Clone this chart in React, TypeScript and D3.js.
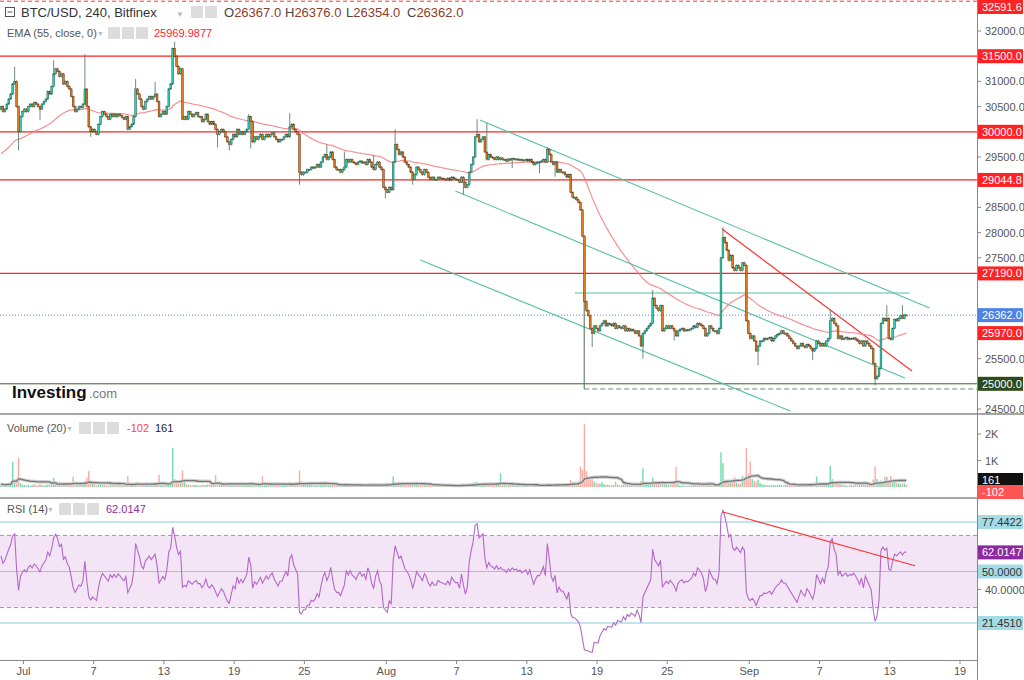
import * as d3 from 'd3';

// 4h closes, one row per day starting Jun 29 (00:00, 04:00 ... 20:00)
const closesByDay: number[][] = [
  [30500, 30400, 30450, 30550, 30650, 30750], // Jun 29
  [30950, 31000, 30500, 30000, 30300, 30400],
  [30450, 30400, 30500, 30550, 30500, 30580], // Jul 1
  [30550, 30500, 30450, 30550, 30600, 30650],
  [30800, 30750, 30900, 31150, 31250, 31200],
  [31100, 31150, 30950, 31000, 30900, 30850],
  [30700, 30500, 30400, 30450, 30500, 30480],
  [30550, 30850, 30500, 30100, 30000, 30050],
  [30000, 29950, 30150, 30300, 30400, 30350],
  [30300, 30250, 30350, 30300, 30350, 30300],
  [30350, 30320, 30280, 30250, 30300, 30050],
  [30100, 30150, 30300, 30850, 30750, 30650],
  [30500, 30450, 30600, 30650, 30700, 30650],
  [30700, 30750, 30600, 30300, 30350, 30400],
  [30350, 30500, 30850, 30950, 31650, 31500], // Jul 13
  [31300, 31150, 31250, 30250, 30300, 30250],
  [30400, 30350, 30300, 30350, 30380, 30300],
  [30300, 30200, 30250, 30350, 30200, 30150],
  [30200, 30150, 30050, 29950, 30000, 30050],
  [30000, 29900, 29800, 29750, 29850, 29950],
  [29900, 30050, 29950, 30000, 29950, 30000], // Jul 19
  [30050, 30300, 30200, 29800, 29900, 29850],
  [29900, 29950, 29850, 29900, 29950, 29900],
  [29950, 29980, 29900, 29850, 29800, 29850],
  [29850, 29900, 29950, 29900, 30100, 30150],
  [30050, 30000, 29950, 29200, 29150, 29200], // Jul 24
  [29200, 29250, 29250, 29300, 29280, 29300],
  [29350, 29300, 29400, 29500, 29550, 29450],
  [29500, 29600, 29450, 29300, 29250, 29250],
  [29200, 29250, 29300, 29450, 29400, 29450],
  [29400, 29380, 29350, 29400, 29420, 29380],
  [29400, 29350, 29450, 29400, 29300, 29250],
  [29350, 29400, 29300, 29250, 28900, 28850],
  [28800, 28900, 28850, 29400, 29750, 29650], // Aug 1
  [29550, 29600, 29500, 29400, 29350, 29300],
  [29200, 29050, 29150, 29300, 29250, 29200],
  [29150, 29250, 29200, 29100, 29050, 29100],
  [29050, 29050, 29100, 29080, 29070, 29060],
  [29050, 29080, 29040, 29100, 29070, 29050],
  [29050, 29000, 29100, 29000, 28900, 28950], // Aug 7
  [29200, 29350, 29500, 29900, 29950, 29800],
  [29850, 29900, 29600, 29450, 29550, 29500],
  [29480, 29450, 29500, 29450, 29480, 29450],
  [29450, 29420, 29460, 29440, 29470, 29450],
  [29460, 29440, 29450, 29430, 29440, 29450],
  [29420, 29450, 29400, 29350, 29380, 29400],
  [29400, 29420, 29450, 29400, 29650, 29550],
  [29400, 29350, 29400, 29200, 29250, 29200],
  [29200, 29150, 29100, 29150, 28800, 28700],
  [28700, 28650, 28600, 28450, 27930, 26630], // Aug 17
  [26450, 26350, 26100, 26000, 26150, 26100],
  [26050, 26150, 26200, 26250, 26150, 26200],
  [26180, 26150, 26200, 26100, 26150, 26120],
  [26100, 26150, 26050, 26100, 26050, 26080],
  [26050, 26000, 26050, 25950, 25750, 26000],
  [26050, 26100, 26150, 26200, 26700, 26550], // Aug 23
  [26500, 26450, 26550, 26050, 26100, 26150],
  [26100, 26150, 26100, 26050, 25950, 26050],
  [26080, 26100, 26050, 26070, 26060, 26080],
  [26100, 26150, 26120, 26200, 26180, 26150],
  [26100, 25950, 26000, 26150, 26100, 26050],
  [26050, 26000, 26100, 27500, 27900, 27800], // Aug 29
  [27650, 27450, 27550, 27300, 27250, 27350],
  [27300, 27250, 27400, 27350, 26250, 26000],
  [25900, 25950, 25850, 25650, 25750, 25850], // Sep 1
  [25850, 25900, 25880, 25900, 25920, 25850],
  [25900, 25950, 25980, 26000, 26050, 26000],
  [26000, 25950, 25900, 25850, 25800, 25750],
  [25700, 25750, 25800, 25750, 25720, 25780],
  [25750, 25700, 25650, 25700, 25850, 25800],
  [25750, 25800, 25750, 25850, 25900, 26250], // Sep 7
  [26300, 26200, 26150, 25900, 25950, 25880],
  [25900, 25920, 25880, 25900, 25890, 25910],
  [25880, 25850, 25800, 25850, 25750, 25850],
  [25800, 25750, 25700, 25400, 25100, 25150], // Sep 11
  [25300, 26200, 26300, 26250, 26300, 25900],
  [25880, 26100, 26280, 26250, 26300, 26350],
  [26300, 26367, 26362], // Sep 14
];
const firstOpen = 30450;

// wicks that stand out in the picture: [candle index, price]
const highMarks: [number, number][] = [
  [7, 31290], [27, 31420], [43, 31540], [69, 31050], [79, 30990], [89, 31785],
  [127, 30350], [148, 30370], [167, 29740], [176, 29610], [191, 29540], [202, 30050],
  [244, 30250], [249, 30170], [280, 29700], [334, 26860], [370, 28105], [425, 26460],
  [454, 26560], [462, 26560], [464, 26376],
];
const lowMarks: [number, number][] = [
  [9, 29630], [20, 30230], [46, 29900], [111, 29690], [117, 29630], [128, 29670],
  [153, 28950], [197, 28680], [211, 28950], [237, 28750], [262, 29280], [276, 29180],
  [284, 29110], [303, 25730], [329, 25500], [345, 25860], [388, 25370], [416, 25470],
  [448, 24970], [464, 26354],
];

const volumeByDay: number[][] = [
  [120, 80, 60, 90, 140, 110], [940, 260, 180, 1100, 150, 90], [70, 60, 90, 50, 80, 100],
  [60, 80, 110, 70, 50, 90], [80, 100, 160, 350, 180, 120], [200, 130, 90, 70, 110, 80],
  [90, 390, 120, 80, 60, 90], [100, 220, 350, 600, 140, 180], [90, 60, 80, 110, 70, 90],
  [60, 50, 80, 70, 90, 60], [70, 90, 60, 80, 100, 420], [90, 80, 110, 180, 200, 100],
  [70, 60, 90, 80, 70, 110], [90, 130, 100, 460, 120, 80], [70, 90, 130, 190, 1480, 300],
  [180, 140, 160, 630, 200, 120], [80, 70, 60, 90, 80, 70], [60, 90, 70, 80, 100, 90],
  [100, 120, 460, 150, 190, 90], [110, 80, 130, 90, 70, 100], [60, 80, 90, 70, 60, 80],
  [120, 150, 200, 170, 90, 80], [70, 100, 400, 150, 90, 60], [50, 70, 60, 80, 50, 60],
  [70, 60, 90, 110, 200, 130], [100, 180, 160, 620, 220, 130], [90, 70, 110, 80, 100, 70],
  [60, 80, 100, 90, 120, 80], [70, 60, 90, 110, 80, 70], [60, 70, 130, 90, 60, 50],
  [50, 60, 40, 70, 50, 60], [50, 70, 60, 160, 80, 100], [70, 60, 90, 80, 140, 120],
  [170, 90, 110, 400, 180, 130], [200, 90, 150, 100, 80, 110], [90, 120, 80, 100, 70, 60],
  [70, 60, 80, 60, 50, 70], [40, 50, 40, 60, 50, 40], [50, 40, 60, 50, 40, 60],
  [60, 70, 90, 130, 100, 120], [110, 130, 150, 180, 200, 140], [120, 100, 130, 110, 90, 80],
  [70, 60, 80, 90, 520, 110], [70, 60, 50, 80, 100, 60], [40, 50, 40, 50, 60, 40],
  [50, 60, 70, 50, 60, 70], [90, 80, 70, 60, 150, 110], [80, 90, 100, 120, 80, 70],
  [90, 100, 110, 120, 260, 180], [190, 160, 220, 770, 650, 2370], [600, 400, 280, 350, 200, 160],
  [140, 120, 180, 110, 90, 80], [70, 60, 80, 200, 90, 60], [70, 80, 200, 90, 70, 60],
  [90, 80, 110, 150, 230, 700], [150, 110, 120, 160, 350, 180], [120, 100, 90, 220, 110, 100],
  [80, 90, 100, 130, 750, 140], [70, 50, 60, 40, 50, 60], [50, 60, 70, 60, 80, 70],
  [90, 120, 100, 200, 110, 80], [70, 80, 120, 1310, 900, 280], [240, 200, 180, 160, 370, 150],
  [130, 120, 420, 260, 1470, 500], [960, 300, 240, 200, 280, 150], [110, 90, 80, 70, 60, 80],
  [70, 60, 80, 90, 70, 60], [90, 100, 80, 110, 120, 90], [80, 70, 90, 100, 80, 70],
  [90, 110, 160, 120, 400, 130], [100, 90, 80, 110, 150, 800], [300, 160, 140, 200, 110, 90],
  [70, 60, 50, 60, 70, 60], [80, 70, 90, 110, 160, 120], [100, 90, 130, 280, 770, 300],
  [200, 250, 220, 400, 380, 200], [420, 180, 300, 160, 140, 120], [130, 140, 90],
];

const emaSeed = 29530;
const rsiSeedGain = 60;
const rsiSeedLoss = 45;

const levelLines = [31500, 30000, 29044.8, 27190];
const priceTicks = d3.range(24500, 32001, 500);
const dateTicks: [number, string][] = [
  [2, 'Jul'], [8, '7'], [14, '13'], [20, '19'], [26, '25'], [33, 'Aug'], [39, '7'],
  [45, '13'], [51, '19'], [57, '25'], [64, 'Sep'], [70, '7'], [76, '13'], [82, '19'],
];

// drawings: [day, price] pairs
const channelLines: [number, number, number, number][] = [
  [41.0, 30234, 79.4, 26504],
  [38.9, 28825, 77.3, 25115],
  [35.9, 27456, 67.5, 24460],
  [49.1, 26802, 77.7, 26802],
];
const redTrend: [number, number, number, number] = [61.67, 28071, 77.9, 25254];
const rsiTrend: [number, number, number, number] = [61.76, 83.0, 78.16, 53.2];
const rangeBox = { day: 49.9, top: 26802, bottom: 24897 };

const FONT = '"Liberation Sans", Arial, sans-serif';
const AX = 977;

export default function App() {
  const closes = closesByDay.flat();
  const vols = volumeByDay.flat();
  const n = closes.length;
  const hiMap = new Map(highMarks);
  const loMap = new Map(lowMarks);

  const candles = closes.map((c, i) => {
    const o = i === 0 ? firstOpen : closes[i - 1];
    const h = hiMap.get(i) ?? Math.max(o, c) + 20;
    const l = loMap.get(i) ?? Math.min(o, c) - 20;
    return { i, o, h, l, c, v: vols[i] ?? 0 };
  });

  const xDay = d3.scaleLinear().domain([0, 82]).range([0, 960]);
  const xi = (i: number) => xDay((i + 0.5) / 6);
  const y = d3.scaleLinear().domain([24500, 32000]).range([409, 31]);
  const yv = d3.scaleLinear().domain([0, 2000]).range([487, 434]);
  const yr = d3.scaleLinear().domain([0, 100]).range([661.7, 481.3]);

  // EMA 55
  const alpha = 2 / 56;
  let e = emaSeed;
  const ema = closes.map((c) => (e = alpha * c + (1 - alpha) * e));
  // RSI 14 (Wilder)
  let ag = rsiSeedGain, al = rsiSeedLoss;
  const rsi = candles.map((d) => {
    const ch = d.c - d.o;
    ag = (ag * 13 + Math.max(ch, 0)) / 14;
    al = (al * 13 + Math.max(-ch, 0)) / 14;
    return 100 - 100 / (1 + ag / al);
  });
  // volume MA 20
  const vma = vols.map((_, i) => d3.mean(vols.slice(Math.max(0, i - 19), i + 1)) as number);

  const emaPath = d3.line<number>().x((_, i) => xi(i)).y((v) => y(v))(ema) || '';
  const rsiPath = d3.line<number>().x((_, i) => xi(i)).y((v) => yr(v))(rsi) || '';
  const vmaPath = d3.line<number>().x((_, i) => xi(i)).y((v) => yv(v))(vma) || '';

  // price labels on the axis; ticks under them are hidden
  const boxedPrices = [32591.6, ...levelLines, 26362, ema[n - 1], 25000];
  const freeTicks = priceTicks.filter((p) => boxedPrices.every((b) => Math.abs(y(p) - y(b)) > 12));

  const box = (py: number, text: string, bg: string, fg = '#fff', key?: string) => (
    <g key={key ?? text}>
      <rect x={AX + 1} y={py - 7} width={45} height={14} fill={bg} />
      <text x={AX + 5} y={py + 4} fontSize={11} fill={fg} fontFamily={FONT}>{text}</text>
    </g>
  );

  const icons = (x0: number, yc: number, count: number) =>
    d3.range(count).map((k) => (
      <rect key={k} x={x0 + k * 14} y={yc - 6} width={12} height={12} fill="#dcdcdc" rx={1} />
    ));

  return (
    <svg width={1024} height={680} style={{ position: 'absolute', left: 0, top: 0, background: '#fff' }}>
      <defs>
        <clipPath id="cMain"><rect x={0} y={0} width={AX} height={413} /></clipPath>
        <clipPath id="cVol"><rect x={0} y={416} width={AX} height={81} /></clipPath>
        <clipPath id="cRsi"><rect x={0} y={500} width={AX} height={160} /></clipPath>
      </defs>

      {/* main pane */}
      <g clipPath="url(#cMain)">
        <line x1={0} x2={AX} y1={y(32591.6)} y2={y(32591.6)} stroke="#f33" strokeDasharray="4,3" />
        {levelLines.map((p) => (
          <line key={p} x1={0} x2={AX} y1={y(p)} y2={y(p)} stroke="#f22" strokeWidth={1.2} />
        ))}
        <line x1={0} x2={AX} y1={y(26362)} y2={y(26362)} stroke="#5b87e8" strokeDasharray="1,2" />
        <line x1={0} x2={AX} y1={y(25000)} y2={y(25000)} stroke="#3d5c2e" />
        {channelLines.map(([d1, p1, d2, p2], k) => (
          <line key={k} x1={xDay(d1)} y1={y(p1)} x2={xDay(d2)} y2={y(p2)} stroke="#55c0a2" strokeWidth={1.1} />
        ))}
        <line x1={xDay(rangeBox.day)} x2={xDay(rangeBox.day)} y1={y(rangeBox.top)} y2={y(rangeBox.bottom)} stroke="#4d6b4d" />
        <line x1={xDay(rangeBox.day)} x2={AX} y1={y(rangeBox.bottom)} y2={y(rangeBox.bottom)} stroke="#6d8a6d" strokeDasharray="5,3" />
        <line x1={xDay(redTrend[0])} y1={y(redTrend[1])} x2={xDay(redTrend[2])} y2={y(redTrend[3])} stroke="#f33" strokeWidth={1.2} />
        <path d={emaPath} fill="none" stroke="#f47c7c" strokeOpacity={0.85} strokeWidth={1.2} />
        {candles.map((d) => {
          const cx = xi(d.i);
          const up = d.c >= d.o;
          const top = y(Math.max(d.o, d.c));
          const bh = Math.max(1, y(Math.min(d.o, d.c)) - top);
          return (
            <g key={d.i}>
              <line x1={cx} x2={cx} y1={y(d.h)} y2={y(d.l)} stroke="#4c6b5c" strokeWidth={0.8} />
              <rect x={cx - 0.9} y={top} width={1.8} height={bh}
                fill={up ? '#2fd1b5' : '#e07a1c'} stroke={up ? '#1f5f50' : '#6a3210'} strokeWidth={0.5} />
            </g>
          );
        })}
      </g>
      <text x={12} y={398} fontSize={17} fontWeight="bold" fill="#111" fontFamily={FONT}>Investing</text>
      <text x={89} y={398} fontSize={13} fill="#777" fontFamily={FONT}>.com</text>

      {/* header */}
      <rect x={5.5} y={7.5} width={9} height={9} fill="none" stroke="#555" />
      <line x1={7.5} x2={12.5} y1={12} y2={12} stroke="#555" />
      <text x={21} y={17} fontSize={13} fill="#333" fontFamily={FONT}>BTC/USD, 240, Bitfinex</text>
      <text x={176} y={17} fontSize={8} fill="#bbb" fontFamily={FONT}>▼</text>
      {icons(191, 12, 2)}
      {(['O26367.0', 'H26376.0', 'L26354.0', 'C26362.0']).map((t, k) => (
        <text key={t} x={224 + k * 61} y={17} fontSize={13} fontFamily={FONT}>
          <tspan fill="#444">{t[0]}</tspan><tspan fill="#8c3c2c">{t.slice(1)}</tspan>
        </text>
      ))}
      <text x={7} y={37} fontSize={11} fill="#555" fontFamily={FONT}>EMA (55, close, 0)</text>
      <text x={97} y={36} fontSize={7} fill="#bbb" fontFamily={FONT}>▼</text>
      {icons(108, 33, 3)}
      <text x={154} y={37} fontSize={11} fill="#f23" fontFamily={FONT}>25969.9877</text>

      {/* volume pane */}
      <g clipPath="url(#cVol)">
        {candles.map((d) => (
          <rect key={d.i} x={xi(d.i) - 0.7} width={1.4} y={yv(d.v)} height={yv(0) - yv(d.v)}
            fill={d.c >= d.o ? '#6fdcab' : '#f9aaa2'} />
        ))}
        <path d={vmaPath} fill="none" stroke="#cfcfcf" strokeWidth={3.5} />
        <path d={vmaPath} fill="none" stroke="#777" strokeWidth={1.3} />
      </g>
      <text x={7} y={432} fontSize={11} fill="#555" fontFamily={FONT}>Volume (20)</text>
      <text x={66} y={431} fontSize={7} fill="#bbb" fontFamily={FONT}>▼</text>
      {icons(79, 428, 3)}
      <text x={127} y={432} fontSize={11} fill="#f44" fontFamily={FONT}>-102</text>
      <text x={155} y={432} fontSize={11} fill="#222" fontFamily={FONT}>161</text>

      {/* RSI pane */}
      <g clipPath="url(#cRsi)">
        <rect x={0} width={AX} y={yr(70)} height={yr(30) - yr(70)} fill="#f3e5f5" />
        <line x1={0} x2={AX} y1={yr(70)} y2={yr(70)} stroke="#999" strokeDasharray="4,3" />
        <line x1={0} x2={AX} y1={yr(30)} y2={yr(30)} stroke="#999" strokeDasharray="4,3" />
        {[77.4422, 50, 21.451].map((v) => (
          <line key={v} x1={0} x2={AX} y1={yr(v)} y2={yr(v)} stroke="#86cddc" strokeWidth={1.2} />
        ))}
        <path d={rsiPath} fill="none" stroke="#b368c9" strokeWidth={1.1} />
        <line x1={xDay(rsiTrend[0])} y1={yr(rsiTrend[1])} x2={xDay(rsiTrend[2])} y2={yr(rsiTrend[3])} stroke="#f33" strokeWidth={1.2} />
      </g>
      <text x={7} y={513} fontSize={11} fill="#555" fontFamily={FONT}>RSI (14)</text>
      <text x={47} y={512} fontSize={7} fill="#bbb" fontFamily={FONT}>▼</text>
      {icons(59, 509, 3)}
      <text x={106} y={513} fontSize={11} fill="#8e2aa0" fontFamily={FONT}>62.0147</text>

      {/* separators and axes */}
      <rect x={0} y={413} width={1024} height={2} fill="#a5a5a5" />
      <rect x={0} y={497} width={1024} height={2} fill="#a5a5a5" />
      <line x1={0} x2={AX} y1={660.5} y2={660.5} stroke="#888" />
      <line x1={AX + 0.5} x2={AX + 0.5} y1={0} y2={680} stroke="#888" />

      {freeTicks.map((p) => (
        <g key={p}>
          <line x1={AX} x2={AX + 4} y1={y(p)} y2={y(p)} stroke="#888" />
          <text x={AX + 8} y={y(p) + 4} fontSize={11} fill="#555" fontFamily={FONT}>{p.toFixed(1)}</text>
        </g>
      ))}
      {box(Math.max(7, y(32591.6)), '32591.6', '#f22', '#fff', 'top')}
      {levelLines.map((p) => box(y(p), p.toFixed(1), '#f22'))}
      {box(y(26362), '26362.0', '#4f82e6')}
      {box(y(ema[n - 1]), '25970.0', '#f22')}
      {box(y(25000), '25000.0', '#2d4b1c')}

      {[[1000, '1K'], [2000, '2K']].map(([v, t]) => (
        <g key={t as string}>
          <line x1={AX} x2={AX + 4} y1={yv(v as number)} y2={yv(v as number)} stroke="#888" />
          <text x={AX + 8} y={yv(v as number) + 4} fontSize={11} fill="#555" fontFamily={FONT}>{t}</text>
        </g>
      ))}
      {box(480, '161', '#111')}
      {box(492, '-102', '#f55')}

      <g>
        <line x1={AX} x2={AX + 4} y1={yr(40)} y2={yr(40)} stroke="#888" />
        <text x={AX + 8} y={yr(40) + 4} fontSize={11} fill="#555" fontFamily={FONT}>40.0000</text>
      </g>
      {box(yr(77.4422), '77.4422', '#a3dbe7', '#333')}
      {box(yr(50), '50.0000', '#a3dbe7', '#333')}
      {box(yr(21.451), '21.4510', '#a3dbe7', '#333')}
      {box(yr(rsi[n - 1]), '62.0147', '#8e2aa0')}

      {dateTicks.map(([d, t]) => (
        <g key={d}>
          <line x1={xDay(d)} x2={xDay(d)} y1={660} y2={664} stroke="#888" />
          <text x={xDay(d)} y={675} fontSize={11} fill="#555" textAnchor="middle" fontFamily={FONT}>{t}</text>
        </g>
      ))}
    </svg>
  );
}
